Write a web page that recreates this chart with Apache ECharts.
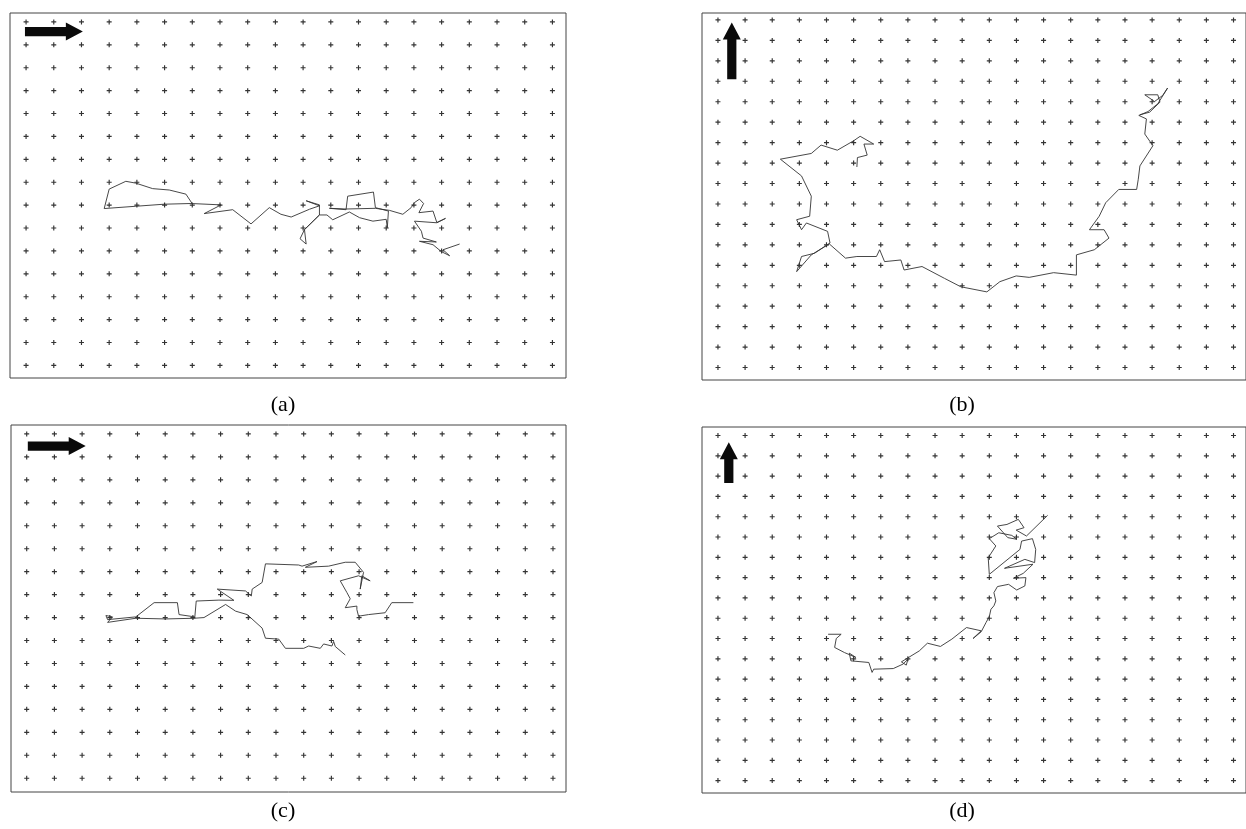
<!DOCTYPE html>
<html>
<head>
<meta charset="utf-8">
<script src="https://cdn.jsdelivr.net/npm/echarts/dist/echarts.min.js"></script>
<style>
html,body{margin:0;padding:0;background:#fff;}
#chart{width:1246px;height:829px;}
</style>
</head>
<body>
<div id="chart"></div>
<script>
// ---- lattice tick positions (grid units) ----
const COLS = [0,1,2,3,4,5,6,7,8,9,10,11,12,13,14,15,16,17,18,19];
const ROWS_AC = [0,1,2,3,4,5,6,7,8,9,10,11,12,13,14,15];
const ROWS_BD = [0,1,2,3,4,5,6,7,8,9,10,11,12,13,14,15,16,17];

// ---- panel labels ----
const LABELS = ['(a)', '(b)', '(c)', '(d)'];

// ---- arrows: [x0, y0, x1(tip), y1(tip)] in grid units ----
const ARROW_A = [-0.04, 0.42, 2.05, 0.42];
const ARROW_B = [0.51, 2.90, 0.51, 0.13];
const ARROW_C = [0.04, 0.53, 2.13, 0.53];
const ARROW_D = [0.40, 2.34, 0.40, 0.33];

// ---- trajectories [x, y] in grid units (y counted downward) ----
const PATH_A = [[6.01,7.96],[5.77,7.52],[5.17,7.34],[4.57,7.28],[3.96,7.04],[3.60,6.96],[3.00,7.30],[2.82,8.15],[3.96,8.05],[4.99,7.96],[5.95,7.93],[7.04,7.99],[6.43,8.37],[7.46,8.20],[8.12,8.82],[8.78,8.11],[9.20,8.40],[9.57,8.52],[10.23,8.18],[10.59,8.03],[10.11,7.81],[10.59,7.99],[10.59,8.43],[10.05,9.07],[10.11,9.70],[9.89,9.47],[10.05,9.07],[10.59,8.43],[10.86,8.43],[11.07,8.64],[11.67,8.30],[12.04,8.55],[12.52,8.70],[13.00,8.62],[13.04,8.99],[13.08,8.26],[12.61,8.11],[12.54,7.43],[11.61,7.61],[11.55,8.20],[10.95,8.14],[11.55,8.17],[12.61,8.14],[13.12,8.23],[13.60,8.40],[13.90,8.11],[14.02,7.89],[14.20,7.74],[14.35,7.93],[14.18,8.33],[14.69,8.26],[14.83,8.77],[15.14,8.58],[14.81,8.77],[14.02,8.70],[14.27,9.14],[14.33,9.44],[14.81,9.61],[14.20,9.58],[14.69,9.73],[14.99,10.03],[15.29,10.21],[15.05,9.95],[15.65,9.70]];

const PATH_B = [[5.12,7.19],[5.14,6.73],[5.50,6.61],[5.38,6.07],[5.74,6.07],[5.24,5.69],[5.00,5.91],[4.40,6.37],[3.80,6.12],[3.44,6.53],[2.30,6.81],[3.08,7.63],[3.44,8.62],[3.38,9.60],[2.90,9.77],[3.08,10.26],[3.26,9.93],[4.04,10.34],[4.13,10.91],[3.56,11.41],[3.08,11.57],[2.90,12.31],[3.44,11.49],[4.10,10.95],[4.70,11.65],[5.12,11.57],[5.84,11.57],[5.96,11.24],[6.14,11.82],[6.74,11.74],[6.86,12.23],[7.52,12.06],[8.35,12.64],[8.95,13.05],[9.91,13.30],[10.39,12.80],[10.99,12.52],[11.47,12.59],[12.37,12.36],[13.21,12.48],[13.21,11.49],[13.87,11.24],[14.41,10.67],[14.23,10.26],[13.69,10.26],[14.05,9.60],[14.29,8.94],[14.77,8.29],[15.43,8.29],[15.49,7.79],[15.55,7.14],[16.03,6.15],[15.73,5.58],[15.79,4.84],[15.51,4.67],[15.85,4.48],[16.21,4.10],[16.57,3.33],[16.39,3.69],[16.09,3.99],[15.73,3.66],[16.21,3.66],[16.29,4.02],[15.91,4.51],[15.55,4.64]];

const PATH_C = [[13.96,7.35],[13.18,7.35],[12.94,7.79],[12.34,7.87],[11.98,7.94],[11.92,7.65],[11.92,7.50],[11.50,7.57],[11.68,7.18],[11.56,6.91],[11.32,6.40],[11.98,6.18],[12.40,6.40],[12.10,6.18],[12.04,6.76],[12.16,6.03],[11.86,5.59],[11.50,5.59],[10.90,5.76],[10.06,5.81],[10.48,5.56],[9.94,5.76],[9.82,5.71],[8.62,5.66],[8.50,6.47],[8.14,6.76],[8.11,7.06],[7.90,6.84],[6.88,6.76],[7.48,7.25],[6.94,7.24],[6.12,7.28],[6.07,7.97],[5.50,7.87],[5.44,7.35],[4.60,7.35],[3.94,7.97],[2.92,8.09],[2.86,7.91],[3.10,7.97],[2.92,8.21],[3.94,8.03],[5.02,8.06],[6.04,8.03],[6.40,8.00],[7.18,7.43],[7.54,7.72],[7.96,7.87],[8.50,8.46],[8.62,8.90],[9.10,8.94],[9.34,9.34],[10.00,9.34],[10.18,9.24],[10.60,9.34],[10.72,9.15],[11.02,9.24],[11.08,9.04],[11.14,9.26],[11.50,9.63]];

const PATH_D = [[4.06,9.79],[4.54,9.79],[4.36,10.00],[4.30,10.44],[4.66,10.69],[5.08,10.93],[4.84,10.72],[4.90,11.10],[5.56,11.18],[5.68,11.67],[5.74,11.51],[6.46,11.48],[6.82,11.26],[7.00,11.02],[6.94,11.31],[6.76,11.15],[7.42,10.61],[7.72,10.23],[8.20,10.39],[8.62,10.03],[9.16,9.46],[9.70,9.62],[9.40,10.00],[9.70,9.67],[9.88,9.21],[10.00,8.92],[10.06,8.56],[10.17,8.39],[10.24,8.15],[10.17,7.74],[10.30,7.44],[10.71,7.33],[11.01,7.61],[11.31,7.41],[11.35,7.00],[10.89,7.03],[11.25,6.79],[11.61,6.34],[10.56,6.54],[11.31,6.10],[11.67,6.26],[11.71,5.61],[11.59,5.08],[11.19,5.20],[11.13,5.61],[10.00,6.84],[9.96,6.02],[10.24,5.44],[10.00,5.08],[10.35,4.79],[10.83,4.92],[11.01,5.11],[10.68,5.03],[10.30,4.46],[10.65,4.38],[11.07,4.13],[11.28,4.54],[10.99,4.66],[11.37,4.95],[12.15,3.93]];

function lattice(cols, rows) {
  const out = [];
  rows.forEach(r => cols.forEach(c => out.push([c, r])));
  return out;
}

function renderArrow(params, api) {
  const a = api.coord([api.value(0), api.value(1)]);
  const b = api.coord([api.value(2), api.value(3)]);
  const dx = b[0] - a[0], dy = b[1] - a[1];
  const L = Math.hypot(dx, dy);
  const ux = dx / L, uy = dy / L, nx = -uy, ny = ux;
  const sw = 4.6, hw = 9, hl = 17;
  const hb = [b[0] - ux * hl, b[1] - uy * hl];
  const pts = [
    [a[0] + nx * sw, a[1] + ny * sw],
    [hb[0] + nx * sw, hb[1] + ny * sw],
    [hb[0] + nx * hw, hb[1] + ny * hw],
    [b[0], b[1]],
    [hb[0] - nx * hw, hb[1] - ny * hw],
    [hb[0] - nx * sw, hb[1] - ny * sw],
    [a[0] - nx * sw, a[1] - ny * sw]
  ];
  return { type: 'polygon', shape: { points: pts }, style: { fill: '#0a0a0a' } };
}

const panels = [
  { grid: {left: 10, top: 13, width: 556, height: 365}, x: [-0.58, 19.49], y: [-0.39, 15.55], rows: ROWS_AC, path: PATH_A, arrow: ARROW_A },
  { grid: {left: 702, top: 13, width: 556, height: 367}, x: [-0.588, 19.46], y: [-0.34, 17.61], rows: ROWS_BD, path: PATH_B, arrow: ARROW_B },
  { grid: {left: 11, top: 425, width: 555, height: 367}, x: [-0.567, 19.47], y: [-0.39, 15.60], rows: ROWS_AC, path: PATH_C, arrow: ARROW_C },
  { grid: {left: 702, top: 427, width: 556, height: 366}, x: [-0.588, 19.46], y: [-0.42, 17.61], rows: ROWS_BD, path: PATH_D, arrow: ARROW_D }
];

const PLUS = 'path://M2,0 L3.2,0 L3.2,2 L5.2,2 L5.2,3.2 L3.2,3.2 L3.2,5.2 L2,5.2 L2,3.2 L0,3.2 L0,2 L2,2 Z';

const option = {
  animation: false,
  backgroundColor: '#fff',
  grid: [], xAxis: [], yAxis: [], series: [],
  graphic: []
};

panels.forEach((p, i) => {
  option.grid.push(Object.assign({ show: true, borderColor: '#444', borderWidth: 1, backgroundColor: 'transparent' }, p.grid));
  option.xAxis.push({ type: 'value', gridIndex: i, min: p.x[0], max: p.x[1], show: false });
  option.yAxis.push({ type: 'value', gridIndex: i, min: p.y[0], max: p.y[1], inverse: true, show: false });
  option.series.push({
    type: 'scatter', xAxisIndex: i, yAxisIndex: i, symbol: PLUS, symbolSize: 5,
    itemStyle: { color: '#000' }, data: lattice(COLS, p.rows), z: 1, silent: true
  });
  option.series.push({
    type: 'line', xAxisIndex: i, yAxisIndex: i, data: p.path, symbol: 'none',
    lineStyle: { color: '#333', width: 0.9 }, z: 2, silent: true
  });
  option.series.push({
    type: 'custom', xAxisIndex: i, yAxisIndex: i, renderItem: renderArrow,
    data: [p.arrow], encode: { x: [0, 2], y: [1, 3] }, z: 3, silent: true
  });
});

const labelPos = [[283, 405], [962, 405], [283, 811], [962, 811]];
LABELS.forEach((t, i) => {
  option.graphic.push({
    type: 'text', x: labelPos[i][0], y: labelPos[i][1],
    style: { text: t, fill: '#000', font: '22px "Liberation Serif", "DejaVu Serif", serif', align: 'center', verticalAlign: 'middle' }
  });
});

const chart = echarts.init(document.getElementById('chart'), null, { renderer: 'canvas' });
chart.setOption(option);
</script>
</body>
</html>
